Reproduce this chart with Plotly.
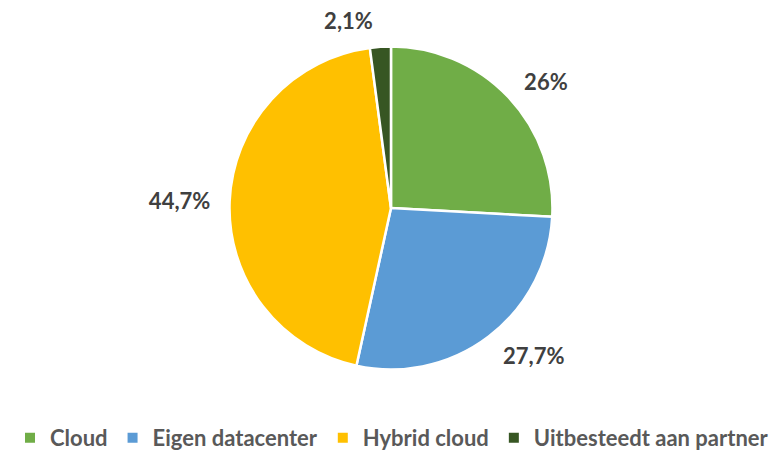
import plotly.graph_objects as go

categories = ["Cloud", "Eigen datacenter", "Hybrid cloud", "Uitbesteedt aan partner"]
values = [26.0, 27.7, 44.7, 2.1]
value_labels = ["26%", "27,7%", "44,7%", "2,1%"]
colors = ["#70AD47", "#5B9BD5", "#FFC000", "#375623"]

cx, cy = 0.4987, 0.5468
fig = go.Figure()
fig.add_trace(go.Pie(
    labels=categories,
    values=values,
    textinfo="none",
    sort=False,
    direction="clockwise",
    rotation=0,
    marker=dict(colors=colors, line=dict(color="white", width=2.5)),
    domain=dict(x=[cx - 0.2060, cx + 0.2060], y=[cy - 0.3518, cy + 0.3518]),
    hoverinfo="label+percent",
))
# transparent outer ring only to carry the percentage labels a bit further out
fig.add_trace(go.Pie(
    labels=categories,
    values=values,
    text=value_labels,
    textinfo="text",
    textposition="outside",
    sort=False,
    direction="clockwise",
    rotation=0,
    showlegend=False,
    hoverinfo="skip",
    marker=dict(colors=["rgba(0,0,0,0)"] * 4, line=dict(width=0)),
    outsidetextfont=dict(family="Lato", size=22, color="#404040", weight="bold"),
    domain=dict(x=[cx - 0.2220, cx + 0.2220], y=[cy - 0.3792, cy + 0.3792]),
))

fig.update_layout(
    width=784, height=459,
    margin=dict(l=0, r=0, t=0, b=0),
    paper_bgcolor="white",
    showlegend=True,
    legend=dict(
        orientation="h",
        x=0.5, xanchor="center",
        y=0.0, yanchor="bottom",
        font=dict(family="Lato", size=22, color="#595959", weight="bold"),
        itemsizing="constant",
    ),
)

fig.write_html("out.html", config={"displayModeBar": False},
               post_script="document.body.style.margin='0';")
